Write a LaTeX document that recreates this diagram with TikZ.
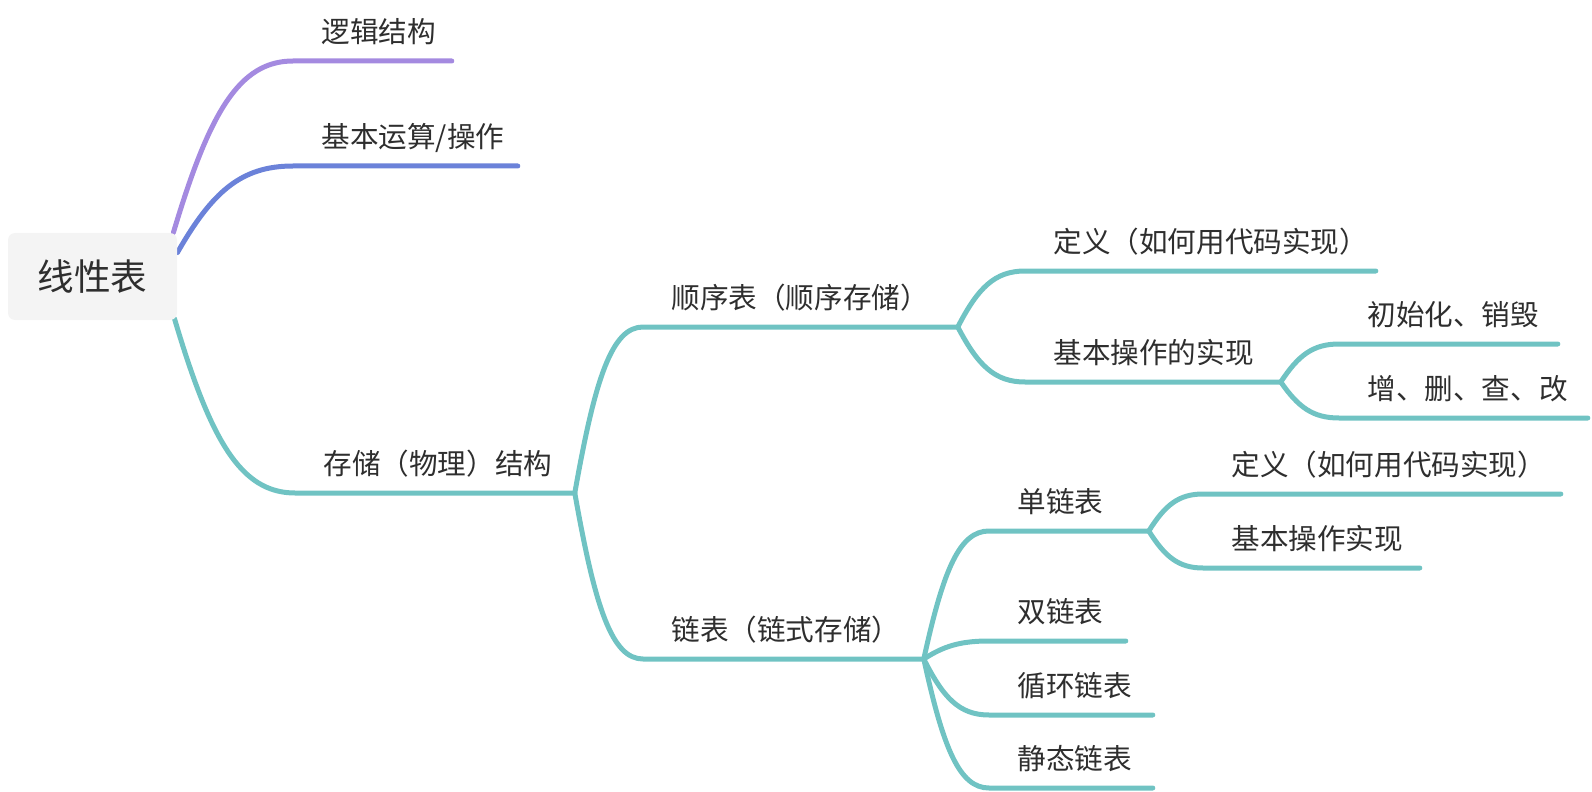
\documentclass[tikz,border=0pt]{standalone}
\usepackage{fontspec}
\setmainfont{Noto Sans CJK SC}
\usetikzlibrary{calc,backgrounds}
\definecolor{MMpurple}{HTML}{A48AE0}
\definecolor{MMblue}{HTML}{6B82D9}
\definecolor{MMteal}{HTML}{70C3C3}
\definecolor{MMtext}{HTML}{2E2E2E}
\definecolor{MMroot}{HTML}{F4F4F4}
\tikzset{
  mm/root/.style={fill=MMroot, rounded corners=3.5pt, minimum width=84.5pt, minimum height=43.5pt, inner sep=0pt, text=MMtext, font=\fontsize{18.3}{22}\selectfont},
  mm/topic/.style={anchor=south west, inner xsep=0pt, inner ysep=9pt, text depth=0pt, text width=#1, align=left, text=MMtext, font=\fontsize{14.3}{17}\selectfont, execute at begin node={\hspace*{14pt}}},
  mm/branch/.style={line width=2.5pt, line cap=round, line join=round},
  mm/curve/.style={to path={let \p1=(\tikztostart), \p2=(\tikztotarget) in .. controls ({\x1+0.3*(\x2-\x1)},{\y1+0.7*(\y2-\y1)}) and ({\x2-0.45*(\x2-\x1)},{\y2}) .. (\tikztotarget) \tikztonodes}}
}
\begin{document}
\begin{tikzpicture}[x=0.5pt, y=-0.5pt]
  \useasboundingbox (0,0) rectangle (1592,792);

  \node[mm/root] (root) at (92.5,276.5) {线性表};

  % first level
  \node[mm/topic=79pt] (logic) at (293,61) {逻辑结构};
  \node[mm/topic=112pt] (ops) at (293,166) {基本运算/操作};
  \node[mm/topic=139.5pt] (store) at (295,493) {存储（物理）结构};

  % storage
  \node[mm/topic=157pt] (seq) at (643,327) {顺序表（顺序存储）};
  \node[mm/topic=140pt] (link) at (643,659) {链表（链式存储）};

  \node[mm/topic=175pt] (seqdef) at (1025,271) {定义（如何用代码实现）};
  \node[mm/topic=127.5pt] (seqops) at (1025,382) {基本操作的实现};
  \node[mm/topic=109pt] (init) at (1339,344) {初始化、销毁};
  \node[mm/topic=124pt] (crud) at (1339,418) {增、删、查、改};

  \node[mm/topic=79.5pt] (single) at (989,531) {单链表};
  \node[mm/topic=178.5pt] (singledef) at (1203,494) {定义（如何用代码实现）};
  \node[mm/topic=108pt] (singleops) at (1203,568) {基本操作实现};
  \node[mm/topic=68pt] (double) at (989,641) {双链表};
  \node[mm/topic=81.5pt] (cyclic) at (989,715) {循环链表};
  \node[mm/topic=81.5pt] (static) at (989,788) {静态链表};

  \begin{scope}[on background layer]
    \draw[mm/branch, MMpurple] ([xshift=-2pt]root.north east) to[mm/curve] (logic.south west) -- (logic.south east);
    \draw[mm/branch, MMblue] ([yshift=-10pt]root.north east) to[mm/curve] (ops.south west) -- (ops.south east);
    \draw[mm/branch, MMteal] ([shift={(-1.5pt,1pt)}]root.south east) to[mm/curve] (store.south west) -- (store.south east);

    \draw[mm/branch, MMteal] (store.south east) to[mm/curve] (seq.south west) -- (seq.south east);
    \draw[mm/branch, MMteal] (store.south east) to[mm/curve] (link.south west) -- (link.south east);

    \draw[mm/branch, MMteal] (seq.south east) to[mm/curve] (seqdef.south west) -- (seqdef.south east);
    \draw[mm/branch, MMteal] (seq.south east) to[mm/curve] (seqops.south west) -- (seqops.south east);
    \draw[mm/branch, MMteal] (seqops.south east) to[mm/curve] (init.south west) -- (init.south east);
    \draw[mm/branch, MMteal] (seqops.south east) to[mm/curve] (crud.south west) -- (crud.south east);

    \draw[mm/branch, MMteal] (link.south east) to[mm/curve] (single.south west) -- (single.south east);
    \draw[mm/branch, MMteal] (single.south east) to[mm/curve] (singledef.south west) -- (singledef.south east);
    \draw[mm/branch, MMteal] (single.south east) to[mm/curve] (singleops.south west) -- (singleops.south east);
    \draw[mm/branch, MMteal] (link.south east) to[mm/curve] (double.south west) -- (double.south east);
    \draw[mm/branch, MMteal] (link.south east) to[mm/curve] (cyclic.south west) -- (cyclic.south east);
    \draw[mm/branch, MMteal] (link.south east) to[mm/curve] (static.south west) -- (static.south east);
  \end{scope}
\end{tikzpicture}
\end{document}
